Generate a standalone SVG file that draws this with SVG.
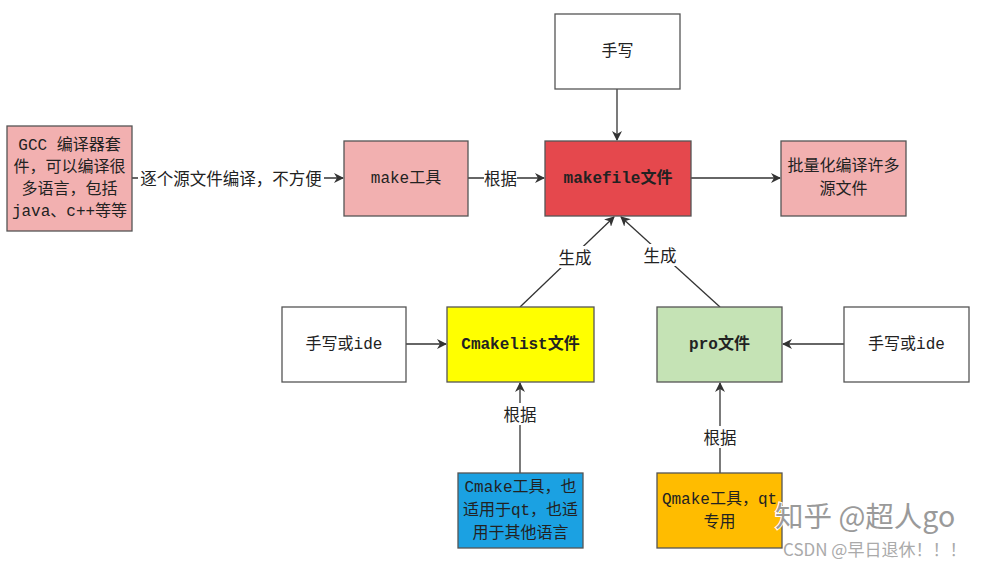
<svg xmlns="http://www.w3.org/2000/svg" width="990" height="564" viewBox="0 0 990 564">
<defs>
<marker id="arr" viewBox="0 0 10 10" refX="9" refY="5" markerWidth="10" markerHeight="10" markerUnits="userSpaceOnUse" orient="auto">
<path d="M0,0 L10,5 L0,10 L3,5 Z" fill="#333"/>
</marker>
</defs>
<style>
.box{stroke:#555;stroke-width:1.3}
.t{font-family:"Liberation Mono","Noto Sans CJK SC",monospace;font-size:16px;fill:#222;text-anchor:middle;dominant-baseline:central}
.b{font-weight:bold}
.lbl{font-family:"Noto Sans CJK SC","Liberation Sans",sans-serif;font-size:16.5px;fill:#222;text-anchor:middle;dominant-baseline:central}
.c{stroke:#333;stroke-width:1.3;fill:none;marker-end:url(#arr)}
.lb{fill:#fff}
</style>
<rect width="990" height="564" fill="#fff"/>
<g id="connectors">
<line class="c" x1="132" y1="178" x2="343" y2="178"/>
<rect class="lb" x="138" y="167" width="186" height="22"/>
<text class="lbl" x="231" y="178">逐个源文件编译，不方便</text>
<line class="c" x1="468" y1="178" x2="544" y2="178"/>
<rect class="lb" x="484" y="167" width="33" height="22"/>
<text class="lbl" x="500.5" y="178">根据</text>
<line class="c" x1="691" y1="178" x2="780" y2="178"/>
<line class="c" x1="617" y1="89" x2="617" y2="140"/>
<line class="c" x1="520" y1="307" x2="614" y2="217"/>
<rect class="lb" x="558" y="246" width="33" height="22"/>
<text class="lbl" x="575" y="257">生成</text>
<line class="c" x1="720" y1="307" x2="621" y2="217"/>
<rect class="lb" x="643" y="244" width="33" height="22"/>
<text class="lbl" x="660" y="255">生成</text>
<line class="c" x1="406" y1="344" x2="446" y2="344"/>
<line class="c" x1="844" y1="344" x2="783" y2="344"/>
<line class="c" x1="520" y1="473" x2="520" y2="383"/>
<rect class="lb" x="503" y="403" width="33" height="22"/>
<text class="lbl" x="520" y="414">根据</text>
<line class="c" x1="720" y1="473" x2="720" y2="383"/>
<rect class="lb" x="703" y="426" width="33" height="22"/>
<text class="lbl" x="720" y="437">根据</text>
</g>
<g id="n-gcc">
<rect class="box" x="7" y="126" width="125" height="105" fill="#F2B0B0"/>
<text class="t" x="69.5" y="146">GCC 编译器套</text>
<text class="t" x="69.5" y="168">件，可以编译很</text>
<text class="t" x="69.5" y="190">多语言，包括</text>
<text class="t" x="69.5" y="212">java、c++等等</text>
</g>
<g id="n-make">
<rect class="box" x="344" y="141" width="124" height="75" fill="#F2B0B0"/>
<text class="t" x="406" y="178.5">make工具</text>
</g>
<g id="n-handwrite">
<rect class="box" x="555" y="14" width="125" height="75" fill="#fff"/>
<text class="t" x="617.5" y="51.5">手写</text>
</g>
<g id="n-makefile">
<rect class="box" x="545" y="141" width="146" height="75" fill="#E5484D"/>
<text class="t b" x="618" y="178.5">makefile文件</text>
</g>
<g id="n-batch">
<rect class="box" x="781" y="141" width="125" height="75" fill="#F2B0B0"/>
<text class="t" x="843.5" y="167">批量化编译许多</text>
<text class="t" x="843.5" y="190">源文件</text>
</g>
<g id="n-hw-left">
<rect class="box" x="282" y="307" width="124" height="75" fill="#fff"/>
<text class="t" x="344" y="344.5">手写或ide</text>
</g>
<g id="n-cmakelist">
<rect class="box" x="447" y="307" width="147" height="75" fill="#FFFF00"/>
<text class="t b" x="520.5" y="344.5">Cmakelist文件</text>
</g>
<g id="n-pro">
<rect class="box" x="657" y="307" width="125" height="75" fill="#C5E3B5"/>
<text class="t b" x="719.5" y="344.5">pro文件</text>
</g>
<g id="n-hw-right">
<rect class="box" x="844" y="307" width="125" height="75" fill="#fff"/>
<text class="t" x="906.5" y="344.5">手写或ide</text>
</g>
<g id="n-cmake">
<rect class="box" x="458" y="473" width="125" height="75" fill="#1BA1E2"/>
<text class="t" x="520.5" y="488">Cmake工具，也</text>
<text class="t" x="520.5" y="511">适用于qt，也适</text>
<text class="t" x="520.5" y="534">用于其他语言</text>
</g>
<g id="n-qmake">
<rect class="box" x="657" y="473" width="125" height="75" fill="#FFBC00"/>
<text class="t" x="719.5" y="500">Qmake工具，qt</text>
<text class="t" x="719.5" y="523">专用</text>
</g>
<g id="watermark" font-family="'Noto Sans CJK SC','Liberation Sans',sans-serif">
<text x="775" y="527" font-size="28.5" fill="#9a9a9a" stroke="#fff" stroke-width="2" paint-order="stroke">知乎 @超人go</text>
<text x="783" y="556" font-size="17" fill="#aaa">CSDN @早日退休！！！</text>
</g>
</svg>
